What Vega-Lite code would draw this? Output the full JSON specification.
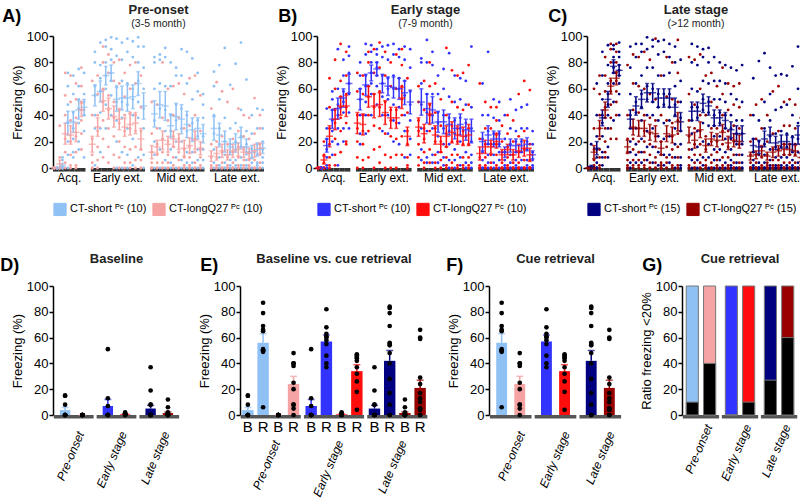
{
  "$schema": "https://vega.github.io/schema/vega-lite/v6.json",
  "background": "white",
  "padding": {"left": 0, "top": 3, "right": 0, "bottom": 0},
  "config": {
    "font": "Liberation Sans",
    "view": {"stroke": null},
    "axis": {"grid": false, "domainColor": "#000", "tickColor": "#000", "domainWidth": 1.5, "tickWidth": 1.5, "tickSize": 4, "labelFontSize": 13, "titleFontSize": 13, "titleFontWeight": "normal", "labelColor": "#000", "titleColor": "#000", "labelPadding": 1, "titlePadding": 2},
    "title": {"fontSize": 13, "fontWeight": "bold", "color": "#222", "subtitleFontSize": 10.5, "subtitleColor": "#222", "subtitlePadding": 2, "offset": 6},
    "legend": {"symbolSize": 150, "labelFontSize": 11, "symbolStrokeColor": "#888", "symbolStrokeWidth": 1, "columnPadding": 3, "labelOffset": 3, "labelColor": "#000"}
  },
  "datasets": {
    "trials": [
      {"t":"a1"},{"t":"a2"},{"t":"a3"},{"t":"a4"},{"t":"a5"},{"t":"a6"},
      {"t":"e1"},{"t":"e2"},{"t":"e3"},{"t":"e4"},{"t":"e5"},{"t":"e6"},{"t":"e7"},{"t":"e8"},{"t":"e9"},{"t":"e10"},
      {"t":"m1"},{"t":"m2"},{"t":"m3"},{"t":"m4"},{"t":"m5"},{"t":"m6"},{"t":"m7"},{"t":"m8"},{"t":"m9"},{"t":"m10"},
      {"t":"l1"},{"t":"l2"},{"t":"l3"},{"t":"l4"},{"t":"l5"},{"t":"l6"},{"t":"l7"},{"t":"l8"},{"t":"l9"},{"t":"l10"}
    ],
    "blocks": [
      {"b": "Acq.", "c": "a3"},
      {"b": "Early ext.", "c": "e5"},
      {"b": "Mid ext.", "c": "m5"},
      {"b": "Late ext.", "c": "l5"}
    ],
    "stages": [{"stage": "Pre-onset"}, {"stage": "Early stage"}, {"stage": "Late stage"}],
    "A": [
      {"g":"s","t":"a1","m":0,"lo":0,"hi":0,"v":[0,0,0,0,0,0,0]},
      {"g":"s","t":"a2","m":2,"lo":0.5,"hi":3.5,"v":[0,0,0,0,8,0,6]},
      {"g":"s","t":"a3","m":34,"lo":25,"hi":43,"v":[72,62,48,35,20,10,0]},
      {"g":"s","t":"a4","m":35,"lo":27,"hi":43,"v":[70,56,42,30,22,12,8]},
      {"g":"s","t":"a5","m":44,"lo":37,"hi":51,"v":[75,62,52,45,34,20,14]},
      {"g":"s","t":"a6","m":46,"lo":40,"hi":52,"v":[72,56,50,44,40,28,8]},
      {"g":"s","t":"e1","m":55,"lo":47,"hi":63,"v":[88,80,62,55,40,30,2]},
      {"g":"s","t":"e2","m":58,"lo":50,"hi":66,"v":[95,78,68,58,42,30,12]},
      {"g":"s","t":"e3","m":70,"lo":63,"hi":77,"v":[97,92,80,70,60,48,30]},
      {"g":"s","t":"e4","m":72,"lo":66,"hi":78,"v":[99,90,82,72,66,55,40]},
      {"g":"s","t":"e5","m":52,"lo":43,"hi":61,"v":[98,85,62,50,36,20,0]},
      {"g":"s","t":"e6","m":53,"lo":44,"hi":62,"v":[95,82,66,50,38,12,0]},
      {"g":"s","t":"e7","m":53,"lo":43,"hi":63,"v":[98,88,64,48,30,10,0]},
      {"g":"s","t":"e8","m":54,"lo":45,"hi":63,"v":[96,84,60,52,40,22,2]},
      {"g":"s","t":"e9","m":64,"lo":55,"hi":73,"v":[99,92,80,66,50,38,8]},
      {"g":"s","t":"e10","m":47,"lo":37,"hi":57,"v":[92,76,60,45,30,10,0]},
      {"g":"s","t":"m1","m":41,"lo":31,"hi":51,"v":[84,80,60,36,20,10,0]},
      {"g":"s","t":"m2","m":48,"lo":38,"hi":58,"v":[86,82,64,45,30,14,0]},
      {"g":"s","t":"m3","m":47,"lo":36,"hi":58,"v":[91,84,62,44,28,6,0]},
      {"g":"s","t":"m4","m":32,"lo":23,"hi":41,"v":[80,62,40,28,14,4,0]},
      {"g":"s","t":"m5","m":39,"lo":29,"hi":49,"v":[76,70,48,36,20,8,0]},
      {"g":"s","t":"m6","m":37,"lo":26,"hi":48,"v":[90,70,45,30,20,6,0]},
      {"g":"s","t":"m7","m":33,"lo":23,"hi":43,"v":[88,64,40,28,12,4,0]},
      {"g":"s","t":"m8","m":29,"lo":20,"hi":38,"v":[83,52,34,22,12,4,0]},
      {"g":"s","t":"m9","m":30,"lo":22,"hi":38,"v":[72,58,36,24,14,6,0]},
      {"g":"s","t":"m10","m":26,"lo":19,"hi":33,"v":[56,48,38,24,14,6,0]},
      {"g":"s","t":"l1","m":30,"lo":21,"hi":39,"v":[73,62,40,26,14,4,0]},
      {"g":"s","t":"l2","m":25,"lo":16,"hi":34,"v":[78,52,30,18,8,2,0]},
      {"g":"s","t":"l3","m":20,"lo":12,"hi":28,"v":[91,38,20,10,4,0,0]},
      {"g":"s","t":"l4","m":16,"lo":10,"hi":22,"v":[63,30,18,12,6,2,0]},
      {"g":"s","t":"l5","m":19,"lo":12,"hi":26,"v":[79,34,20,14,6,2,0]},
      {"g":"s","t":"l6","m":23,"lo":15,"hi":31,"v":[95,44,24,16,8,2,0]},
      {"g":"s","t":"l7","m":16,"lo":10,"hi":22,"v":[67,28,18,12,6,2,0]},
      {"g":"s","t":"l8","m":12,"lo":7,"hi":17,"v":[40,26,14,8,4,0,0]},
      {"g":"s","t":"l9","m":14,"lo":9,"hi":19,"v":[45,30,18,10,4,2,0]},
      {"g":"s","t":"l10","m":15,"lo":11,"hi":19,"v":[44,30,20,14,8,4,0]},
      {"g":"l","t":"a1","m":0,"lo":0,"hi":0,"v":[0,0,0,0,0,0,0]},
      {"g":"l","t":"a2","m":3,"lo":0,"hi":6,"v":[32,8,0,0,0,0,0]},
      {"g":"l","t":"a3","m":26,"lo":18,"hi":34,"v":[72,55,40,22,12,4,0]},
      {"g":"l","t":"a4","m":25,"lo":18,"hi":32,"v":[70,50,36,20,10,2,0]},
      {"g":"l","t":"a5","m":27,"lo":20,"hi":34,"v":[64,52,38,24,12,2,0]},
      {"g":"l","t":"a6","m":44,"lo":39,"hi":49,"v":[76,62,50,44,36,26,14]},
      {"g":"l","t":"e1","m":18,"lo":12,"hi":24,"v":[66,40,22,10,4,0,0]},
      {"g":"l","t":"e2","m":31,"lo":24,"hi":38,"v":[70,56,40,28,16,6,0]},
      {"g":"l","t":"e3","m":51,"lo":43,"hi":59,"v":[92,80,60,50,36,22,8]},
      {"g":"l","t":"e4","m":45,"lo":37,"hi":53,"v":[86,72,55,44,30,16,4]},
      {"g":"l","t":"e5","m":39,"lo":31,"hi":47,"v":[80,66,50,38,24,10,0]},
      {"g":"l","t":"e6","m":37,"lo":29,"hi":45,"v":[82,64,44,34,20,8,0]},
      {"g":"l","t":"e7","m":31,"lo":24,"hi":38,"v":[72,54,40,28,16,4,0]},
      {"g":"l","t":"e8","m":33,"lo":25,"hi":41,"v":[78,60,42,30,14,4,0]},
      {"g":"l","t":"e9","m":34,"lo":26,"hi":42,"v":[80,64,40,28,16,6,0]},
      {"g":"l","t":"e10","m":22,"lo":14,"hi":30,"v":[70,46,28,14,6,0,0]},
      {"g":"l","t":"m1","m":12,"lo":7,"hi":17,"v":[50,26,12,4,0,0,0]},
      {"g":"l","t":"m2","m":16,"lo":11,"hi":21,"v":[48,30,18,10,4,0,0]},
      {"g":"l","t":"m3","m":21,"lo":14,"hi":28,"v":[80,38,22,12,4,0,0]},
      {"g":"l","t":"m4","m":18,"lo":12,"hi":24,"v":[60,36,20,10,4,0,0]},
      {"g":"l","t":"m5","m":22,"lo":16,"hi":28,"v":[62,40,24,16,8,2,0]},
      {"g":"l","t":"m6","m":20,"lo":14,"hi":26,"v":[64,38,22,12,6,0,0]},
      {"g":"l","t":"m7","m":15,"lo":9,"hi":21,"v":[56,30,14,8,2,0,0]},
      {"g":"l","t":"m8","m":17,"lo":11,"hi":23,"v":[68,32,16,8,2,0,0]},
      {"g":"l","t":"m9","m":21,"lo":14,"hi":28,"v":[70,40,22,12,4,0,0]},
      {"g":"l","t":"m10","m":15,"lo":10,"hi":20,"v":[55,28,14,8,2,0,0]},
      {"g":"l","t":"l1","m":9,"lo":5,"hi":13,"v":[45,18,8,2,0,0,0]},
      {"g":"l","t":"l2","m":11,"lo":6,"hi":16,"v":[65,20,8,2,0,0,0]},
      {"g":"l","t":"l3","m":13,"lo":8,"hi":18,"v":[58,24,12,4,0,0,0]},
      {"g":"l","t":"l4","m":10,"lo":6,"hi":14,"v":[50,18,8,2,0,0,0]},
      {"g":"l","t":"l5","m":13,"lo":8,"hi":18,"v":[60,22,12,4,0,0,0]},
      {"g":"l","t":"l6","m":14,"lo":9,"hi":19,"v":[45,28,16,8,2,0,0]},
      {"g":"l","t":"l7","m":12,"lo":8,"hi":16,"v":[40,24,14,6,2,0,0]},
      {"g":"l","t":"l8","m":11,"lo":7,"hi":15,"v":[38,22,12,6,2,0,0]},
      {"g":"l","t":"l9","m":13,"lo":8,"hi":18,"v":[53,26,12,6,0,0,0]},
      {"g":"l","t":"l10","m":15,"lo":11,"hi":19,"v":[40,30,18,10,4,0,0]}
    ],
    "B": [
      {"g":"s","t":"a1","m":0,"lo":0,"hi":0,"v":[0,0,0,0,0,0,0]},
      {"g":"s","t":"a2","m":17,"lo":12,"hi":22,"v":[45,30,22,14,8,2,0]},
      {"g":"s","t":"a3","m":37,"lo":30,"hi":44,"v":[58,52,44,36,28,20,10]},
      {"g":"s","t":"a4","m":45,"lo":37,"hi":53,"v":[90,60,48,40,30,18,2]},
      {"g":"s","t":"a5","m":53,"lo":46,"hi":60,"v":[82,70,58,50,42,30,20]},
      {"g":"s","t":"a6","m":64,"lo":57,"hi":71,"v":[92,85,72,64,56,42,30]},
      {"g":"s","t":"e1","m":52,"lo":44,"hi":60,"v":[80,70,60,52,40,26,18]},
      {"g":"s","t":"e2","m":63,"lo":55,"hi":71,"v":[94,86,70,62,50,40,26]},
      {"g":"s","t":"e3","m":72,"lo":66,"hi":78,"v":[93,88,80,72,64,56,40]},
      {"g":"s","t":"e4","m":75,"lo":70,"hi":80,"v":[90,86,80,76,70,62,48]},
      {"g":"s","t":"e5","m":64,"lo":57,"hi":71,"v":[92,84,70,64,54,40,28]},
      {"g":"s","t":"e6","m":62,"lo":55,"hi":69,"v":[93,82,68,60,52,40,26]},
      {"g":"s","t":"e7","m":61,"lo":53,"hi":69,"v":[94,86,70,60,48,36,20]},
      {"g":"s","t":"e8","m":60,"lo":52,"hi":68,"v":[90,84,68,60,46,34,18]},
      {"g":"s","t":"e9","m":57,"lo":48,"hi":66,"v":[92,82,66,55,40,28,8]},
      {"g":"s","t":"e10","m":50,"lo":41,"hi":59,"v":[90,76,58,48,36,22,10]},
      {"g":"s","t":"m1","m":50,"lo":40,"hi":60,"v":[83,80,64,48,30,14,6]},
      {"g":"s","t":"m2","m":45,"lo":34,"hi":56,"v":[97,80,56,42,28,8,4]},
      {"g":"s","t":"m3","m":44,"lo":34,"hi":54,"v":[88,78,56,40,30,10,4]},
      {"g":"s","t":"m4","m":35,"lo":27,"hi":43,"v":[70,56,42,34,24,12,4]},
      {"g":"s","t":"m5","m":35,"lo":26,"hi":44,"v":[75,60,40,30,18,8,2]},
      {"g":"s","t":"m6","m":33,"lo":25,"hi":41,"v":[87,54,38,28,18,6,0]},
      {"g":"s","t":"m7","m":30,"lo":22,"hi":38,"v":[70,50,36,26,14,6,0]},
      {"g":"s","t":"m8","m":33,"lo":25,"hi":41,"v":[68,52,38,30,20,8,2]},
      {"g":"s","t":"m9","m":29,"lo":21,"hi":37,"v":[66,48,34,24,12,4,0]},
      {"g":"s","t":"m10","m":28,"lo":19,"hi":37,"v":[92,46,30,20,10,4,0]},
      {"g":"s","t":"l1","m":20,"lo":13,"hi":27,"v":[64,40,22,12,6,0,0]},
      {"g":"s","t":"l2","m":25,"lo":18,"hi":32,"v":[88,40,28,18,10,4,0]},
      {"g":"s","t":"l3","m":22,"lo":16,"hi":28,"v":[52,38,26,18,10,4,0]},
      {"g":"s","t":"l4","m":22,"lo":16,"hi":28,"v":[50,36,26,18,12,6,0]},
      {"g":"s","t":"l5","m":12,"lo":8,"hi":16,"v":[40,22,12,6,2,0,0]},
      {"g":"s","t":"l6","m":17,"lo":12,"hi":22,"v":[52,30,18,10,4,0,0]},
      {"g":"s","t":"l7","m":17,"lo":12,"hi":22,"v":[44,28,20,12,6,2,0]},
      {"g":"s","t":"l8","m":17,"lo":12,"hi":22,"v":[46,30,20,12,6,0,0]},
      {"g":"s","t":"l9","m":18,"lo":13,"hi":23,"v":[48,30,20,14,6,2,0]},
      {"g":"s","t":"l10","m":10,"lo":7,"hi":13,"v":[28,18,12,6,2,0,0]},
      {"g":"l","t":"a1","m":0,"lo":0,"hi":0,"v":[0,0,0,0,0,0,0]},
      {"g":"l","t":"a2","m":6,"lo":3,"hi":9,"v":[20,10,4,0,0,0,0]},
      {"g":"l","t":"a3","m":24,"lo":16,"hi":32,"v":[68,46,30,18,8,2,0]},
      {"g":"l","t":"a4","m":37,"lo":29,"hi":45,"v":[82,60,44,34,22,10,2]},
      {"g":"l","t":"a5","m":47,"lo":40,"hi":54,"v":[94,66,54,46,38,28,12]},
      {"g":"l","t":"a6","m":47,"lo":39,"hi":55,"v":[88,70,56,46,34,20,18]},
      {"g":"l","t":"e1","m":34,"lo":26,"hi":42,"v":[72,58,40,30,20,8,0]},
      {"g":"l","t":"e2","m":33,"lo":25,"hi":41,"v":[70,56,40,28,18,6,0]},
      {"g":"l","t":"e3","m":54,"lo":46,"hi":62,"v":[88,80,62,54,40,28,8]},
      {"g":"l","t":"e4","m":47,"lo":38,"hi":56,"v":[90,72,56,46,32,14,0]},
      {"g":"l","t":"e5","m":48,"lo":39,"hi":57,"v":[95,76,58,46,30,16,4]},
      {"g":"l","t":"e6","m":42,"lo":33,"hi":51,"v":[88,70,50,40,26,10,0]},
      {"g":"l","t":"e7","m":38,"lo":30,"hi":46,"v":[80,62,44,36,24,8,0]},
      {"g":"l","t":"e8","m":38,"lo":30,"hi":46,"v":[86,60,44,34,22,10,0]},
      {"g":"l","t":"e9","m":53,"lo":45,"hi":61,"v":[90,78,62,52,40,24,10]},
      {"g":"l","t":"e10","m":24,"lo":17,"hi":31,"v":[68,42,28,18,8,2,0]},
      {"g":"l","t":"m1","m":31,"lo":24,"hi":38,"v":[62,50,36,28,18,8,2]},
      {"g":"l","t":"m2","m":26,"lo":19,"hi":33,"v":[66,44,30,22,12,4,0]},
      {"g":"l","t":"m3","m":41,"lo":33,"hi":49,"v":[80,62,48,40,28,14,4]},
      {"g":"l","t":"m4","m":25,"lo":18,"hi":32,"v":[64,42,30,20,10,4,0]},
      {"g":"l","t":"m5","m":18,"lo":12,"hi":24,"v":[52,32,20,12,6,0,0]},
      {"g":"l","t":"m6","m":24,"lo":16,"hi":32,"v":[91,40,26,16,8,2,0]},
      {"g":"l","t":"m7","m":27,"lo":19,"hi":35,"v":[74,50,32,20,10,4,0]},
      {"g":"l","t":"m8","m":25,"lo":18,"hi":32,"v":[70,46,30,20,10,2,0]},
      {"g":"l","t":"m9","m":24,"lo":17,"hi":31,"v":[72,44,28,18,8,2,0]},
      {"g":"l","t":"m10","m":25,"lo":17,"hi":33,"v":[78,48,30,18,8,2,0]},
      {"g":"l","t":"l1","m":11,"lo":6,"hi":16,"v":[64,22,8,2,0,0,0]},
      {"g":"l","t":"l2","m":16,"lo":11,"hi":21,"v":[50,30,18,8,2,0,0]},
      {"g":"l","t":"l3","m":16,"lo":11,"hi":21,"v":[46,30,18,10,4,0,0]},
      {"g":"l","t":"l4","m":20,"lo":15,"hi":25,"v":[46,36,26,18,10,2,0]},
      {"g":"l","t":"l5","m":10,"lo":6,"hi":14,"v":[32,20,12,4,0,0,0]},
      {"g":"l","t":"l6","m":14,"lo":10,"hi":18,"v":[40,26,16,8,2,0,0]},
      {"g":"l","t":"l7","m":10,"lo":6,"hi":14,"v":[36,20,10,4,0,0,0]},
      {"g":"l","t":"l8","m":13,"lo":8,"hi":18,"v":[56,24,12,4,0,0,0]},
      {"g":"l","t":"l9","m":15,"lo":9,"hi":21,"v":[66,28,14,6,0,0,0]},
      {"g":"l","t":"l10","m":10,"lo":5,"hi":15,"v":[59,18,6,0,0,0,0]}
    ],
    "C": [
      {"g":"s","t":"a1","m":1,"lo":0,"hi":2,"v":[18,0,0,0,0,0,0,0,0]},
      {"g":"s","t":"a2","m":15,"lo":10,"hi":20,"v":[64,40,24,14,8,4,0,0,0]},
      {"g":"s","t":"a3","m":38,"lo":32,"hi":44,"v":[88,70,52,40,34,24,12,8,2]},
      {"g":"s","t":"a4","m":52,"lo":46,"hi":58,"v":[93,78,64,56,48,40,30,16,8]},
      {"g":"s","t":"a5","m":77,"lo":72,"hi":82,"v":[93,90,84,80,76,72,64,50,36]},
      {"g":"s","t":"a6","m":74,"lo":70,"hi":78,"v":[95,88,84,78,74,70,64,56,40]},
      {"g":"s","t":"e1","m":37,"lo":30,"hi":44,"v":[92,76,56,40,30,20,12,4,0]},
      {"g":"s","t":"e2","m":47,"lo":40,"hi":54,"v":[94,84,64,50,42,30,18,10,4]},
      {"g":"s","t":"e3","m":52,"lo":45,"hi":59,"v":[94,88,70,56,46,36,22,12,4]},
      {"g":"s","t":"e4","m":57,"lo":50,"hi":64,"v":[99,90,76,62,52,40,28,16,6]},
      {"g":"s","t":"e5","m":57,"lo":50,"hi":64,"v":[97,92,76,60,50,40,30,16,4]},
      {"g":"s","t":"e6","m":53,"lo":46,"hi":60,"v":[96,86,70,56,46,36,24,12,2]},
      {"g":"s","t":"e7","m":53,"lo":46,"hi":60,"v":[97,88,70,56,48,34,22,10,2]},
      {"g":"s","t":"e8","m":53,"lo":46,"hi":60,"v":[94,84,72,56,46,36,24,10,4]},
      {"g":"s","t":"e9","m":46,"lo":39,"hi":53,"v":[92,80,62,48,40,30,18,8,0]},
      {"g":"s","t":"e10","m":35,"lo":28,"hi":42,"v":[82,66,50,38,28,18,8,2,0]},
      {"g":"s","t":"m1","m":43,"lo":36,"hi":50,"v":[94,80,60,46,36,26,14,6,0]},
      {"g":"s","t":"m2","m":43,"lo":36,"hi":50,"v":[92,78,58,46,38,28,16,6,0]},
      {"g":"s","t":"m3","m":49,"lo":42,"hi":56,"v":[90,84,66,52,44,34,20,8,2]},
      {"g":"s","t":"m4","m":47,"lo":40,"hi":54,"v":[91,80,64,50,42,32,18,8,0]},
      {"g":"s","t":"m5","m":38,"lo":32,"hi":44,"v":[84,66,52,40,32,24,14,6,0]},
      {"g":"s","t":"m6","m":38,"lo":32,"hi":44,"v":[80,66,52,42,34,24,14,6,0]},
      {"g":"s","t":"m7","m":36,"lo":30,"hi":42,"v":[78,64,50,40,30,22,12,4,0]},
      {"g":"s","t":"m8","m":29,"lo":23,"hi":35,"v":[76,56,40,30,22,14,6,2,0]},
      {"g":"s","t":"m9","m":26,"lo":20,"hi":32,"v":[74,52,36,26,18,10,4,0,0]},
      {"g":"s","t":"m10","m":26,"lo":20,"hi":32,"v":[78,50,36,26,18,10,4,0,0]},
      {"g":"s","t":"l1","m":17,"lo":12,"hi":22,"v":[68,40,22,12,6,2,0,0,0]},
      {"g":"s","t":"l2","m":16,"lo":11,"hi":21,"v":[81,36,20,10,4,0,0,0,0]},
      {"g":"s","t":"l3","m":22,"lo":16,"hi":28,"v":[87,50,30,18,10,4,0,0,0]},
      {"g":"s","t":"l4","m":25,"lo":19,"hi":31,"v":[76,56,36,24,14,6,2,0,0]},
      {"g":"s","t":"l5","m":19,"lo":14,"hi":24,"v":[70,44,26,16,8,2,0,0,0]},
      {"g":"s","t":"l6","m":20,"lo":15,"hi":25,"v":[71,46,28,16,8,2,0,0,0]},
      {"g":"s","t":"l7","m":20,"lo":15,"hi":25,"v":[70,48,26,16,8,2,0,0,0]},
      {"g":"s","t":"l8","m":18,"lo":13,"hi":23,"v":[77,40,24,12,6,2,0,0,0]},
      {"g":"s","t":"l9","m":25,"lo":18,"hi":32,"v":[92,60,34,22,12,4,0,0,0]},
      {"g":"s","t":"l10","m":17,"lo":12,"hi":22,"v":[59,42,24,12,6,2,0,0,0]},
      {"g":"l","t":"a1","m":0,"lo":0,"hi":0,"v":[0,0,0,0,0,0,0,0,0]},
      {"g":"l","t":"a2","m":12,"lo":7,"hi":17,"v":[60,30,14,6,2,0,0,0,0]},
      {"g":"l","t":"a3","m":30,"lo":24,"hi":36,"v":[70,56,40,30,22,14,8,2,0]},
      {"g":"l","t":"a4","m":44,"lo":38,"hi":50,"v":[84,70,58,46,38,30,20,12,8]},
      {"g":"l","t":"a5","m":62,"lo":56,"hi":68,"v":[94,90,80,66,58,48,38,30,22]},
      {"g":"l","t":"a6","m":68,"lo":63,"hi":73,"v":[94,88,80,72,66,58,50,40,22]},
      {"g":"l","t":"e1","m":16,"lo":11,"hi":21,"v":[78,40,22,12,6,2,0,0,0]},
      {"g":"l","t":"e2","m":31,"lo":25,"hi":37,"v":[86,64,44,30,22,14,6,2,0]},
      {"g":"l","t":"e3","m":30,"lo":24,"hi":36,"v":[84,62,42,30,20,12,6,2,0]},
      {"g":"l","t":"e4","m":30,"lo":24,"hi":36,"v":[88,60,40,28,20,12,6,2,0]},
      {"g":"l","t":"e5","m":27,"lo":21,"hi":33,"v":[82,56,38,26,18,10,4,0,0]},
      {"g":"l","t":"e6","m":26,"lo":20,"hi":32,"v":[98,52,36,24,16,8,4,0,0]},
      {"g":"l","t":"e7","m":15,"lo":10,"hi":20,"v":[70,40,20,10,4,2,0,0,0]},
      {"g":"l","t":"e8","m":26,"lo":20,"hi":32,"v":[84,54,36,24,16,8,4,0,0]},
      {"g":"l","t":"e9","m":25,"lo":19,"hi":31,"v":[80,52,34,24,14,8,2,0,0]},
      {"g":"l","t":"e10","m":35,"lo":28,"hi":42,"v":[97,72,50,36,26,16,8,2,0]},
      {"g":"l","t":"m1","m":25,"lo":19,"hi":31,"v":[84,56,36,24,14,8,2,0,0]},
      {"g":"l","t":"m2","m":21,"lo":15,"hi":27,"v":[82,48,30,18,10,4,0,0,0]},
      {"g":"l","t":"m3","m":29,"lo":23,"hi":35,"v":[86,60,40,28,18,10,4,0,0]},
      {"g":"l","t":"m4","m":17,"lo":12,"hi":22,"v":[70,40,24,14,6,2,0,0,0]},
      {"g":"l","t":"m5","m":22,"lo":17,"hi":27,"v":[72,50,30,20,10,4,0,0,0]},
      {"g":"l","t":"m6","m":21,"lo":16,"hi":26,"v":[62,46,30,20,12,6,2,0,0]},
      {"g":"l","t":"m7","m":27,"lo":21,"hi":33,"v":[76,56,40,28,18,8,2,0,0]},
      {"g":"l","t":"m8","m":19,"lo":14,"hi":24,"v":[64,44,28,16,8,2,0,0,0]},
      {"g":"l","t":"m9","m":21,"lo":16,"hi":26,"v":[62,48,32,20,10,4,0,0,0]},
      {"g":"l","t":"m10","m":20,"lo":15,"hi":25,"v":[64,46,30,18,10,4,0,0,0]},
      {"g":"l","t":"l1","m":9,"lo":6,"hi":12,"v":[40,20,10,4,0,0,0,0,0]},
      {"g":"l","t":"l2","m":10,"lo":7,"hi":13,"v":[48,22,10,4,0,0,0,0,0]},
      {"g":"l","t":"l3","m":13,"lo":9,"hi":17,"v":[52,30,16,8,2,0,0,0,0]},
      {"g":"l","t":"l4","m":9,"lo":6,"hi":12,"v":[40,20,10,4,2,0,0,0,0]},
      {"g":"l","t":"l5","m":12,"lo":8,"hi":16,"v":[58,26,14,6,2,0,0,0,0]},
      {"g":"l","t":"l6","m":13,"lo":9,"hi":17,"v":[62,28,14,6,2,0,0,0,0]},
      {"g":"l","t":"l7","m":14,"lo":10,"hi":18,"v":[50,32,18,10,4,0,0,0,0]},
      {"g":"l","t":"l8","m":14,"lo":10,"hi":18,"v":[52,32,18,10,4,0,0,0,0]},
      {"g":"l","t":"l9","m":13,"lo":9,"hi":17,"v":[48,30,18,10,4,0,0,0,0]},
      {"g":"l","t":"l10","m":8,"lo":5,"hi":11,"v":[38,18,8,2,0,0,0,0,0]}
    ],
    "ret": [
      {"stage":"Pre-onset","ph":"B","grp":"s","cond":"Bs","id":"ps","m":3.8,"hi":5.8,"v":[15,15,8,0,0,0,0,0,0,0]},
      {"stage":"Pre-onset","ph":"R","grp":"s","cond":"Rs","id":"ps","m":56,"hi":63,"v":[87,79,69,66,65,51,50,50,49,6]},
      {"stage":"Pre-onset","ph":"B","grp":"l","cond":"Bl","id":"pl","m":0,"hi":0,"v":[0,0,0,0,0,0,0,0,0,0]},
      {"stage":"Pre-onset","ph":"R","grp":"l","cond":"Rl","id":"pl","m":24,"hi":30,"v":[48,40,40,38,25,20,8,5,8,0]},
      {"stage":"Early stage","ph":"B","grp":"s","cond":"Bs","id":"es","m":7,"hi":12,"v":[51,13,7,0,0,0,0,0,0,0]},
      {"stage":"Early stage","ph":"R","grp":"s","cond":"Rs","id":"es","m":57,"hi":62,"v":[82,68,63,61,60,58,55,46,40,37]},
      {"stage":"Early stage","ph":"B","grp":"l","cond":"Bl","id":"el","m":0.5,"hi":0.8,"v":[2,1,1,1,0,0,0,0,0,0]},
      {"stage":"Early stage","ph":"R","grp":"l","cond":"Rl","id":"el","m":34,"hi":39,"v":[47,46,45,44,42,37,32,26,18,4]},
      {"stage":"Late stage","ph":"B","grp":"s","cond":"Bs","id":"ls","m":5,"hi":7.5,"v":[37,19,8,8,0,0,0,0,0,0,0,0,0,0,0]},
      {"stage":"Late stage","ph":"R","grp":"s","cond":"Rs","id":"ls","m":42,"hi":50,"v":[84,83,79,69,56,55,54,48,40,28,17,8,0,0,0]},
      {"stage":"Late stage","ph":"B","grp":"l","cond":"Bl","id":"ll","m":1.5,"hi":2.4,"v":[12,6,2,1,1,0,0,0,0,0,0,0,0,0,0]},
      {"stage":"Late stage","ph":"R","grp":"l","cond":"Rl","id":"ll","m":21,"hi":27,"v":[66,60,59,29,24,17,13,10,5,5,4,4,0,0,0]}
    ],
    "ratio": [
      {"stage":"Pre-onset","grp":"s","id":"ps","lo":10},
      {"stage":"Pre-onset","grp":"l","id":"pl","lo":40},
      {"stage":"Early stage","grp":"s","id":"es","lo":0},
      {"stage":"Early stage","grp":"l","id":"el","lo":10},
      {"stage":"Late stage","grp":"s","id":"ls","lo":27},
      {"stage":"Late stage","grp":"l","id":"ll","lo":60}
    ]
  },
  "spacing": 35,
  "resolve": {"scale": {"color": "independent", "xOffset": "independent", "x": "independent", "y": "independent"}, "legend": {"color": "independent"}},
  "vconcat": [
    {
      "spacing": 8,
      "resolve": {"scale": {"color": "independent", "xOffset": "independent", "x": "independent", "y": "independent"}, "legend": {"color": "independent"}},
      "hconcat": [
        {
          "title": {"text": "A)", "anchor": "start", "frame": "bounds", "offset": -22, "dx": -9, "fontSize": 18, "fontWeight": "bold", "color": "#000"},
          "resolve": {"scale": {"color": "independent", "xOffset": "independent", "x": "independent", "y": "independent"}, "legend": {"color": "independent"}},
          "vconcat": [{
            "width": 211, "height": 132,
            "title": {"text": "Pre-onset", "subtitle": "(3-5 month)", "offset": 1},
            "layer": [
              {"data": {"name": "trials"}, "mark": {"type": "bar", "color": "#333", "yOffset": 2, "y2Offset": 2},
               "encoding": {
                 "x": {"field": "t", "type": "nominal", "axis": null, "scale": {"type": "band", "paddingInner": 0, "paddingOuter": 0, "domain": ["a1","a2","a3","a4","a5","a6","g1","e1","e2","e3","e4","e5","e6","e7","e8","e9","e10","g2","m1","m2","m3","m4","m5","m6","m7","m8","m9","m10","g3","l1","l2","l3","l4","l5","l6","l7","l8","l9","l10"]}},
                 "y": {"datum": -1.2, "type": "quantitative", "scale": {"domain": [0, 100], "nice": false}, "axis": {"title": "Freezing (%)", "values": [0,20,40,60,80,100]}}
               }},
              {"data": {"name": "blocks"}, "mark": {"type": "text", "yOffset": 5, "baseline": "top", "fontSize": 12, "color": "#000"},
               "encoding": {
                 "x": {"field": "c", "type": "nominal", "bandPosition": 1, "axis": null},
                 "y": {"datum": 0, "type": "quantitative", "axis": {"title": "Freezing (%)", "values": [0,20,40,60,80,100]}},
                 "text": {"field": "b"}
               }},
              {"data": {"name": "A"}, "transform": [{"flatten": ["v"]}], "mark": {"type": "point", "filled": true, "size": 8, "opacity": 1},
               "encoding": {
                 "x": {"field": "t", "type": "nominal", "axis": null},
                 "xOffset": {"field": "g", "type": "nominal", "scale": {"domain": ["l","s"]}},
                 "y": {"field": "v", "type": "quantitative", "axis": {"title": "Freezing (%)", "values": [0,20,40,60,80,100]}},
                 "color": {"field": "g", "type": "nominal", "scale": {"domain": ["s","l"], "range": ["#8FC1F5","#F5A3A3"]},
                   "legend": {"orient": "bottom", "direction": "horizontal", "title": null, "symbolType": "square", "offset": 34, "labelExpr": "datum.label == 's' ? 'CT-short ᴾᶜ (10)' : 'CT-longQ27 ᴾᶜ (10)'"}}
               }},
              {"data": {"name": "A"}, "mark": {"type": "rule", "strokeWidth": 1.5},
               "encoding": {
                 "x": {"field": "t", "type": "nominal", "axis": null},
                 "xOffset": {"field": "g", "type": "nominal"},
                 "y": {"field": "lo", "type": "quantitative", "axis": {"title": "Freezing (%)", "values": [0,20,40,60,80,100]}},
                 "y2": {"field": "hi"},
                 "color": {"field": "g", "type": "nominal", "legend": null}
               }},
              {"data": {"name": "A"}, "mark": {"type": "tick", "size": 4, "thickness": 1.5},
               "encoding": {
                 "x": {"field": "t", "type": "nominal", "axis": null},
                 "xOffset": {"field": "g", "type": "nominal"},
                 "y": {"field": "lo", "type": "quantitative", "axis": {"title": "Freezing (%)", "values": [0,20,40,60,80,100]}},
                 "color": {"field": "g", "type": "nominal", "legend": null}
               }},
              {"data": {"name": "A"}, "mark": {"type": "tick", "size": 4, "thickness": 1.5},
               "encoding": {
                 "x": {"field": "t", "type": "nominal", "axis": null},
                 "xOffset": {"field": "g", "type": "nominal"},
                 "y": {"field": "hi", "type": "quantitative", "axis": {"title": "Freezing (%)", "values": [0,20,40,60,80,100]}},
                 "color": {"field": "g", "type": "nominal", "legend": null}
               }},
              {"data": {"name": "A"}, "mark": {"type": "tick", "size": 7, "thickness": 1.5},
               "encoding": {
                 "x": {"field": "t", "type": "nominal", "axis": null},
                 "xOffset": {"field": "g", "type": "nominal"},
                 "y": {"field": "m", "type": "quantitative", "axis": {"title": "Freezing (%)", "values": [0,20,40,60,80,100]}},
                 "color": {"field": "g", "type": "nominal", "legend": null}
               }}
            ]
          }]
        },
        {
          "title": {"text": "B)", "anchor": "start", "frame": "bounds", "offset": -22, "dx": 3, "fontSize": 18, "fontWeight": "bold", "color": "#000"},
          "resolve": {"scale": {"color": "independent", "xOffset": "independent", "x": "independent", "y": "independent"}, "legend": {"color": "independent"}},
          "vconcat": [{
            "width": 217, "height": 132,
            "title": {"text": "Early stage", "subtitle": "(7-9 month)", "offset": 1},
            "layer": [
              {"data": {"name": "trials"}, "mark": {"type": "bar", "color": "#333", "yOffset": 2, "y2Offset": 2},
               "encoding": {
                 "x": {"field": "t", "type": "nominal", "axis": null, "scale": {"type": "band", "paddingInner": 0, "paddingOuter": 0, "domain": ["a1","a2","a3","a4","a5","a6","g1","e1","e2","e3","e4","e5","e6","e7","e8","e9","e10","g2","m1","m2","m3","m4","m5","m6","m7","m8","m9","m10","g3","l1","l2","l3","l4","l5","l6","l7","l8","l9","l10"]}},
                 "y": {"datum": -1.2, "type": "quantitative", "scale": {"domain": [0, 100], "nice": false}, "axis": {"title": "Freezing (%)", "values": [0,20,40,60,80,100]}}
               }},
              {"data": {"name": "blocks"}, "mark": {"type": "text", "yOffset": 5, "baseline": "top", "fontSize": 12, "color": "#000"},
               "encoding": {
                 "x": {"field": "c", "type": "nominal", "bandPosition": 1, "axis": null},
                 "y": {"datum": 0, "type": "quantitative", "axis": {"title": "Freezing (%)", "values": [0,20,40,60,80,100]}},
                 "text": {"field": "b"}
               }},
              {"data": {"name": "B"}, "transform": [{"flatten": ["v"]}], "mark": {"type": "point", "filled": true, "size": 8, "opacity": 1},
               "encoding": {
                 "x": {"field": "t", "type": "nominal", "axis": null},
                 "xOffset": {"field": "g", "type": "nominal", "scale": {"domain": ["l","s"]}},
                 "y": {"field": "v", "type": "quantitative", "axis": {"title": "Freezing (%)", "values": [0,20,40,60,80,100]}},
                 "color": {"field": "g", "type": "nominal", "scale": {"domain": ["s","l"], "range": ["#3333FF","#FF0D0D"]},
                   "legend": {"orient": "bottom", "direction": "horizontal", "title": null, "symbolType": "square", "offset": 34, "labelExpr": "datum.label == 's' ? 'CT-short ᴾᶜ (10)' : 'CT-longQ27 ᴾᶜ (10)'"}}
               }},
              {"data": {"name": "B"}, "mark": {"type": "rule", "strokeWidth": 1.5},
               "encoding": {
                 "x": {"field": "t", "type": "nominal", "axis": null},
                 "xOffset": {"field": "g", "type": "nominal"},
                 "y": {"field": "lo", "type": "quantitative", "axis": {"title": "Freezing (%)", "values": [0,20,40,60,80,100]}},
                 "y2": {"field": "hi"},
                 "color": {"field": "g", "type": "nominal", "legend": null}
               }},
              {"data": {"name": "B"}, "mark": {"type": "tick", "size": 4, "thickness": 1.5},
               "encoding": {
                 "x": {"field": "t", "type": "nominal", "axis": null},
                 "xOffset": {"field": "g", "type": "nominal"},
                 "y": {"field": "lo", "type": "quantitative", "axis": {"title": "Freezing (%)", "values": [0,20,40,60,80,100]}},
                 "color": {"field": "g", "type": "nominal", "legend": null}
               }},
              {"data": {"name": "B"}, "mark": {"type": "tick", "size": 4, "thickness": 1.5},
               "encoding": {
                 "x": {"field": "t", "type": "nominal", "axis": null},
                 "xOffset": {"field": "g", "type": "nominal"},
                 "y": {"field": "hi", "type": "quantitative", "axis": {"title": "Freezing (%)", "values": [0,20,40,60,80,100]}},
                 "color": {"field": "g", "type": "nominal", "legend": null}
               }},
              {"data": {"name": "B"}, "mark": {"type": "tick", "size": 7, "thickness": 1.5},
               "encoding": {
                 "x": {"field": "t", "type": "nominal", "axis": null},
                 "xOffset": {"field": "g", "type": "nominal"},
                 "y": {"field": "m", "type": "quantitative", "axis": {"title": "Freezing (%)", "values": [0,20,40,60,80,100]}},
                 "color": {"field": "g", "type": "nominal", "legend": null}
               }}
            ]
          }]
        },
        {
          "title": {"text": "C)", "anchor": "start", "frame": "bounds", "offset": -22, "dx": 3, "fontSize": 18, "fontWeight": "bold", "color": "#000"},
          "resolve": {"scale": {"color": "independent", "xOffset": "independent", "x": "independent", "y": "independent"}, "legend": {"color": "independent"}},
          "vconcat": [{
            "width": 218, "height": 132,
            "title": {"text": "Late stage", "subtitle": "(>12 month)", "offset": 1},
            "layer": [
              {"data": {"name": "trials"}, "mark": {"type": "bar", "color": "#333", "yOffset": 2, "y2Offset": 2},
               "encoding": {
                 "x": {"field": "t", "type": "nominal", "axis": null, "scale": {"type": "band", "paddingInner": 0, "paddingOuter": 0, "domain": ["a1","a2","a3","a4","a5","a6","g1","e1","e2","e3","e4","e5","e6","e7","e8","e9","e10","g2","m1","m2","m3","m4","m5","m6","m7","m8","m9","m10","g3","l1","l2","l3","l4","l5","l6","l7","l8","l9","l10"]}},
                 "y": {"datum": -1.2, "type": "quantitative", "scale": {"domain": [0, 100], "nice": false}, "axis": {"title": "Freezing (%)", "values": [0,20,40,60,80,100]}}
               }},
              {"data": {"name": "blocks"}, "mark": {"type": "text", "yOffset": 5, "baseline": "top", "fontSize": 12, "color": "#000"},
               "encoding": {
                 "x": {"field": "c", "type": "nominal", "bandPosition": 1, "axis": null},
                 "y": {"datum": 0, "type": "quantitative", "axis": {"title": "Freezing (%)", "values": [0,20,40,60,80,100]}},
                 "text": {"field": "b"}
               }},
              {"data": {"name": "C"}, "transform": [{"flatten": ["v"]}], "mark": {"type": "point", "filled": true, "size": 8, "opacity": 1},
               "encoding": {
                 "x": {"field": "t", "type": "nominal", "axis": null},
                 "xOffset": {"field": "g", "type": "nominal", "scale": {"domain": ["l","s"]}},
                 "y": {"field": "v", "type": "quantitative", "axis": {"title": "Freezing (%)", "values": [0,20,40,60,80,100]}},
                 "color": {"field": "g", "type": "nominal", "scale": {"domain": ["s","l"], "range": ["#000080","#990000"]},
                   "legend": {"orient": "bottom", "direction": "horizontal", "title": null, "symbolType": "square", "offset": 34, "labelExpr": "datum.label == 's' ? 'CT-short ᴾᶜ (15)' : 'CT-longQ27 ᴾᶜ (15)'"}}
               }},
              {"data": {"name": "C"}, "mark": {"type": "rule", "strokeWidth": 1.5},
               "encoding": {
                 "x": {"field": "t", "type": "nominal", "axis": null},
                 "xOffset": {"field": "g", "type": "nominal"},
                 "y": {"field": "lo", "type": "quantitative", "axis": {"title": "Freezing (%)", "values": [0,20,40,60,80,100]}},
                 "y2": {"field": "hi"},
                 "color": {"field": "g", "type": "nominal", "legend": null}
               }},
              {"data": {"name": "C"}, "mark": {"type": "tick", "size": 4, "thickness": 1.5},
               "encoding": {
                 "x": {"field": "t", "type": "nominal", "axis": null},
                 "xOffset": {"field": "g", "type": "nominal"},
                 "y": {"field": "lo", "type": "quantitative", "axis": {"title": "Freezing (%)", "values": [0,20,40,60,80,100]}},
                 "color": {"field": "g", "type": "nominal", "legend": null}
               }},
              {"data": {"name": "C"}, "mark": {"type": "tick", "size": 4, "thickness": 1.5},
               "encoding": {
                 "x": {"field": "t", "type": "nominal", "axis": null},
                 "xOffset": {"field": "g", "type": "nominal"},
                 "y": {"field": "hi", "type": "quantitative", "axis": {"title": "Freezing (%)", "values": [0,20,40,60,80,100]}},
                 "color": {"field": "g", "type": "nominal", "legend": null}
               }},
              {"data": {"name": "C"}, "mark": {"type": "tick", "size": 7, "thickness": 1.5},
               "encoding": {
                 "x": {"field": "t", "type": "nominal", "axis": null},
                 "xOffset": {"field": "g", "type": "nominal"},
                 "y": {"field": "m", "type": "quantitative", "axis": {"title": "Freezing (%)", "values": [0,20,40,60,80,100]}},
                 "color": {"field": "g", "type": "nominal", "legend": null}
               }}
            ]
          }]
        }
      ]
    },
    {
      "spacing": 18,
      "resolve": {"scale": {"color": "independent", "xOffset": "independent", "x": "independent", "y": "independent"}, "legend": {"color": "independent"}},
      "hconcat": [
        {
          "title": {"text": "D)", "anchor": "start", "frame": "bounds", "offset": -22, "dx": -11, "fontSize": 18, "fontWeight": "bold", "color": "#000"},
          "resolve": {"scale": {"color": "independent", "xOffset": "independent", "x": "independent", "y": "independent"}, "legend": {"color": "independent"}},
          "vconcat": [{
            "width": 127, "height": 129,
            "title": {"text": "Baseline", "offset": 14},
            "layer": [
              {"data": {"name": "stages"}, "mark": {"type": "bar", "color": "#555", "yOffset": 2, "y2Offset": 2},
               "encoding": {
                 "x": {"field": "stage", "type": "nominal", "axis": null, "scale": {"type": "band", "domain": ["Pre-onset","Early stage","Late stage"], "paddingInner": 0.07, "paddingOuter": 0.02}},
                 "y": {"datum": -1.2, "type": "quantitative", "scale": {"domain": [0, 100], "nice": false}, "axis": {"title": "Freezing (%)", "values": [0,20,40,60,80,100]}}
               }},
              {"data": {"name": "stages"}, "mark": {"type": "text", "angle": 293, "align": "right", "baseline": "middle", "fontSize": 12, "fontStyle": "italic", "xOffset": 7, "yOffset": 17, "color": "#000"},
               "encoding": {
                 "x": {"field": "stage", "type": "nominal", "axis": null},
                 "y": {"datum": 0, "type": "quantitative", "axis": {"title": "Freezing (%)", "values": [0,20,40,60,80,100]}},
                 "text": {"field": "stage"}
               }},
              {"data": {"name": "ret"}, "transform": [{"filter": "datum.ph == 'B'"}], "mark": {"type": "bar"},
               "encoding": {
                 "x": {"field": "stage", "type": "nominal", "axis": null},
                 "xOffset": {"field": "grp", "type": "nominal", "scale": {"domain": ["s","l"], "paddingInner": 0.4, "paddingOuter": 0.35}},
                 "y": {"field": "m", "type": "quantitative", "stack": null, "axis": {"title": "Freezing (%)", "values": [0,20,40,60,80,100]}},
                 "color": {"field": "id", "type": "nominal", "legend": null, "scale": {"domain": ["ps","pl","es","el","ls","ll"], "range": ["#8FC1F5","#F5A3A3","#3333FF","#FF0D0D","#000080","#990000"]}}
               }},
              {"data": {"name": "ret"}, "transform": [{"filter": "datum.ph == 'B'"}], "mark": {"type": "rule", "strokeWidth": 1.5},
               "encoding": {
                 "x": {"field": "stage", "type": "nominal", "axis": null},
                 "xOffset": {"field": "grp", "type": "nominal"},
                 "y": {"field": "m", "type": "quantitative", "axis": {"title": "Freezing (%)", "values": [0,20,40,60,80,100]}},
                 "y2": {"field": "hi"},
                 "color": {"field": "id", "type": "nominal", "legend": null}
               }},
              {"data": {"name": "ret"}, "transform": [{"filter": "datum.ph == 'B'"}], "mark": {"type": "tick", "size": 7, "thickness": 1.5},
               "encoding": {
                 "x": {"field": "stage", "type": "nominal", "axis": null},
                 "xOffset": {"field": "grp", "type": "nominal"},
                 "y": {"field": "hi", "type": "quantitative", "axis": {"title": "Freezing (%)", "values": [0,20,40,60,80,100]}},
                 "color": {"field": "id", "type": "nominal", "legend": null}
               }},
              {"data": {"name": "ret"}, "transform": [{"filter": "datum.ph == 'B'"}, {"flatten": ["v"]}], "mark": {"type": "point", "filled": true, "size": 22, "color": "#000", "opacity": 1},
               "encoding": {
                 "x": {"field": "stage", "type": "nominal", "axis": null},
                 "xOffset": {"field": "grp", "type": "nominal"},
                 "y": {"field": "v", "type": "quantitative", "axis": {"title": "Freezing (%)", "values": [0,20,40,60,80,100]}}
               }}
            ]
          }]
        },
        {
          "title": {"text": "E)", "anchor": "start", "frame": "bounds", "offset": -22, "dx": 2, "fontSize": 18, "fontWeight": "bold", "color": "#000"},
          "resolve": {"scale": {"color": "independent", "xOffset": "independent", "x": "independent", "y": "independent"}, "legend": {"color": "independent"}},
          "vconcat": [{
            "width": 188, "height": 129,
            "title": {"text": "Baseline vs. cue retrieval", "offset": 14},
            "layer": [
              {"data": {"name": "stages"}, "mark": {"type": "bar", "color": "#555", "yOffset": 2, "y2Offset": 2},
               "encoding": {
                 "x": {"field": "stage", "type": "nominal", "axis": null, "scale": {"type": "band", "domain": ["Pre-onset","Early stage","Late stage"], "paddingInner": 0.05, "paddingOuter": 0.01}},
                 "y": {"datum": -1.2, "type": "quantitative", "scale": {"domain": [0, 100], "nice": false}, "axis": {"title": "Freezing (%)", "values": [0,20,40,60,80,100]}}
               }},
              {"data": {"name": "stages"}, "mark": {"type": "text", "angle": 293, "align": "right", "baseline": "middle", "fontSize": 12, "fontStyle": "italic", "xOffset": 6, "yOffset": 26, "color": "#000"},
               "encoding": {
                 "x": {"field": "stage", "type": "nominal", "axis": null},
                 "y": {"datum": 0, "type": "quantitative", "axis": {"title": "Freezing (%)", "values": [0,20,40,60,80,100]}},
                 "text": {"field": "stage"}
               }},
              {"data": {"name": "ret"}, "mark": {"type": "text", "baseline": "top", "fontSize": 15, "yOffset": 5, "color": "#000"},
               "encoding": {
                 "x": {"field": "stage", "type": "nominal", "axis": null},
                 "xOffset": {"field": "cond", "type": "nominal", "scale": {"domain": ["Bs","Rs","Bl","Rl"], "paddingInner": 0.25, "paddingOuter": 0.1}},
                 "y": {"datum": 0, "type": "quantitative", "axis": {"title": "Freezing (%)", "values": [0,20,40,60,80,100]}},
                 "text": {"field": "ph"}
               }},
              {"data": {"name": "ret"}, "mark": {"type": "bar"},
               "encoding": {
                 "x": {"field": "stage", "type": "nominal", "axis": null},
                 "xOffset": {"field": "cond", "type": "nominal"},
                 "y": {"field": "m", "type": "quantitative", "stack": null, "axis": {"title": "Freezing (%)", "values": [0,20,40,60,80,100]}},
                 "color": {"field": "id", "type": "nominal", "legend": null, "scale": {"domain": ["ps","pl","es","el","ls","ll"], "range": ["#8FC1F5","#F5A3A3","#3333FF","#FF0D0D","#000080","#990000"]}}
               }},
              {"data": {"name": "ret"}, "mark": {"type": "rule", "strokeWidth": 1.5},
               "encoding": {
                 "x": {"field": "stage", "type": "nominal", "axis": null},
                 "xOffset": {"field": "cond", "type": "nominal"},
                 "y": {"field": "m", "type": "quantitative", "axis": {"title": "Freezing (%)", "values": [0,20,40,60,80,100]}},
                 "y2": {"field": "hi"},
                 "color": {"field": "id", "type": "nominal", "legend": null}
               }},
              {"data": {"name": "ret"}, "mark": {"type": "tick", "size": 7, "thickness": 1.5},
               "encoding": {
                 "x": {"field": "stage", "type": "nominal", "axis": null},
                 "xOffset": {"field": "cond", "type": "nominal"},
                 "y": {"field": "hi", "type": "quantitative", "axis": {"title": "Freezing (%)", "values": [0,20,40,60,80,100]}},
                 "color": {"field": "id", "type": "nominal", "legend": null}
               }},
              {"data": {"name": "ret"}, "transform": [{"flatten": ["v"]}], "mark": {"type": "point", "filled": true, "size": 22, "color": "#000", "opacity": 1},
               "encoding": {
                 "x": {"field": "stage", "type": "nominal", "axis": null},
                 "xOffset": {"field": "cond", "type": "nominal"},
                 "y": {"field": "v", "type": "quantitative", "axis": {"title": "Freezing (%)", "values": [0,20,40,60,80,100]}}
               }}
            ]
          }]
        },
        {
          "title": {"text": "F)", "anchor": "start", "frame": "bounds", "offset": -22, "dx": -1, "fontSize": 18, "fontWeight": "bold", "color": "#000"},
          "resolve": {"scale": {"color": "independent", "xOffset": "independent", "x": "independent", "y": "independent"}, "legend": {"color": "independent"}},
          "vconcat": [{
            "width": 133, "height": 129,
            "title": {"text": "Cue retrieval", "offset": 14},
            "layer": [
              {"data": {"name": "stages"}, "mark": {"type": "bar", "color": "#555", "yOffset": 2, "y2Offset": 2},
               "encoding": {
                 "x": {"field": "stage", "type": "nominal", "axis": null, "scale": {"type": "band", "domain": ["Pre-onset","Early stage","Late stage"], "paddingInner": 0.07, "paddingOuter": 0.02}},
                 "y": {"datum": -1.2, "type": "quantitative", "scale": {"domain": [0, 100], "nice": false}, "axis": {"title": "Freezing (%)", "values": [0,20,40,60,80,100]}}
               }},
              {"data": {"name": "stages"}, "mark": {"type": "text", "angle": 293, "align": "right", "baseline": "middle", "fontSize": 12, "fontStyle": "italic", "xOffset": 11, "yOffset": 17, "color": "#000"},
               "encoding": {
                 "x": {"field": "stage", "type": "nominal", "axis": null},
                 "y": {"datum": 0, "type": "quantitative", "axis": {"title": "Freezing (%)", "values": [0,20,40,60,80,100]}},
                 "text": {"field": "stage"}
               }},
              {"data": {"name": "ret"}, "transform": [{"filter": "datum.ph == 'R'"}], "mark": {"type": "bar"},
               "encoding": {
                 "x": {"field": "stage", "type": "nominal", "axis": null},
                 "xOffset": {"field": "grp", "type": "nominal", "scale": {"domain": ["s","l"], "paddingInner": 0.4, "paddingOuter": 0.35}},
                 "y": {"field": "m", "type": "quantitative", "stack": null, "axis": {"title": "Freezing (%)", "values": [0,20,40,60,80,100]}},
                 "color": {"field": "id", "type": "nominal", "legend": null, "scale": {"domain": ["ps","pl","es","el","ls","ll"], "range": ["#8FC1F5","#F5A3A3","#3333FF","#FF0D0D","#000080","#990000"]}}
               }},
              {"data": {"name": "ret"}, "transform": [{"filter": "datum.ph == 'R'"}], "mark": {"type": "rule", "strokeWidth": 1.5},
               "encoding": {
                 "x": {"field": "stage", "type": "nominal", "axis": null},
                 "xOffset": {"field": "grp", "type": "nominal"},
                 "y": {"field": "m", "type": "quantitative", "axis": {"title": "Freezing (%)", "values": [0,20,40,60,80,100]}},
                 "y2": {"field": "hi"},
                 "color": {"field": "id", "type": "nominal", "legend": null}
               }},
              {"data": {"name": "ret"}, "transform": [{"filter": "datum.ph == 'R'"}], "mark": {"type": "tick", "size": 7, "thickness": 1.5},
               "encoding": {
                 "x": {"field": "stage", "type": "nominal", "axis": null},
                 "xOffset": {"field": "grp", "type": "nominal"},
                 "y": {"field": "hi", "type": "quantitative", "axis": {"title": "Freezing (%)", "values": [0,20,40,60,80,100]}},
                 "color": {"field": "id", "type": "nominal", "legend": null}
               }},
              {"data": {"name": "ret"}, "transform": [{"filter": "datum.ph == 'R'"}, {"flatten": ["v"]}], "mark": {"type": "point", "filled": true, "size": 22, "color": "#000", "opacity": 1},
               "encoding": {
                 "x": {"field": "stage", "type": "nominal", "axis": null},
                 "xOffset": {"field": "grp", "type": "nominal"},
                 "y": {"field": "v", "type": "quantitative", "axis": {"title": "Freezing (%)", "values": [0,20,40,60,80,100]}}
               }}
            ]
          }]
        },
        {
          "title": {"text": "G)", "anchor": "start", "frame": "bounds", "offset": -22, "dx": 2, "fontSize": 18, "fontWeight": "bold", "color": "#000"},
          "resolve": {"scale": {"color": "independent", "xOffset": "independent", "x": "independent", "y": "independent"}, "legend": {"color": "independent"}},
          "vconcat": [{
            "width": 116, "height": 129,
            "title": {"text": "Cue retrieval", "offset": 14},
            "layer": [
              {"data": {"name": "stages"}, "mark": {"type": "bar", "color": "#555", "yOffset": 2, "y2Offset": 2},
               "encoding": {
                 "x": {"field": "stage", "type": "nominal", "axis": null, "scale": {"type": "band", "domain": ["Pre-onset","Early stage","Late stage"], "paddingInner": 0.07, "paddingOuter": 0.02}},
                 "y": {"datum": -1.2, "type": "quantitative", "scale": {"domain": [0, 100], "nice": false}, "axis": {"title": "Ratio freezing <20%", "values": [0,20,40,60,80,100]}}
               }},
              {"data": {"name": "stages"}, "mark": {"type": "text", "angle": 293, "align": "right", "baseline": "middle", "fontSize": 12, "fontStyle": "italic", "xOffset": 8, "yOffset": 10, "color": "#000"},
               "encoding": {
                 "x": {"field": "stage", "type": "nominal", "axis": null},
                 "y": {"datum": 0, "type": "quantitative", "axis": {"title": "Ratio freezing <20%", "values": [0,20,40,60,80,100]}},
                 "text": {"field": "stage"}
               }},
              {"data": {"name": "ratio"}, "mark": {"type": "bar", "stroke": "#777", "strokeWidth": 1},
               "encoding": {
                 "x": {"field": "stage", "type": "nominal", "axis": null},
                 "xOffset": {"field": "grp", "type": "nominal", "scale": {"domain": ["s","l"], "paddingInner": 0.3, "paddingOuter": 0.2}},
                 "y": {"datum": 100, "type": "quantitative", "axis": {"title": "Ratio freezing <20%", "values": [0,20,40,60,80,100]}},
                 "color": {"field": "id", "type": "nominal", "legend": null, "scale": {"domain": ["ps","pl","es","el","ls","ll"], "range": ["#8FC1F5","#F5A3A3","#3333FF","#FF0D0D","#000080","#990000"]}}
               }},
              {"data": {"name": "ratio"}, "mark": {"type": "bar", "color": "#000", "stroke": "#777", "strokeWidth": 1},
               "encoding": {
                 "x": {"field": "stage", "type": "nominal", "axis": null},
                 "xOffset": {"field": "grp", "type": "nominal"},
                 "y": {"field": "lo", "type": "quantitative", "stack": null, "axis": {"title": "Ratio freezing <20%", "values": [0,20,40,60,80,100]}}
               }}
            ]
          }]
        }
      ]
    }
  ]
}
